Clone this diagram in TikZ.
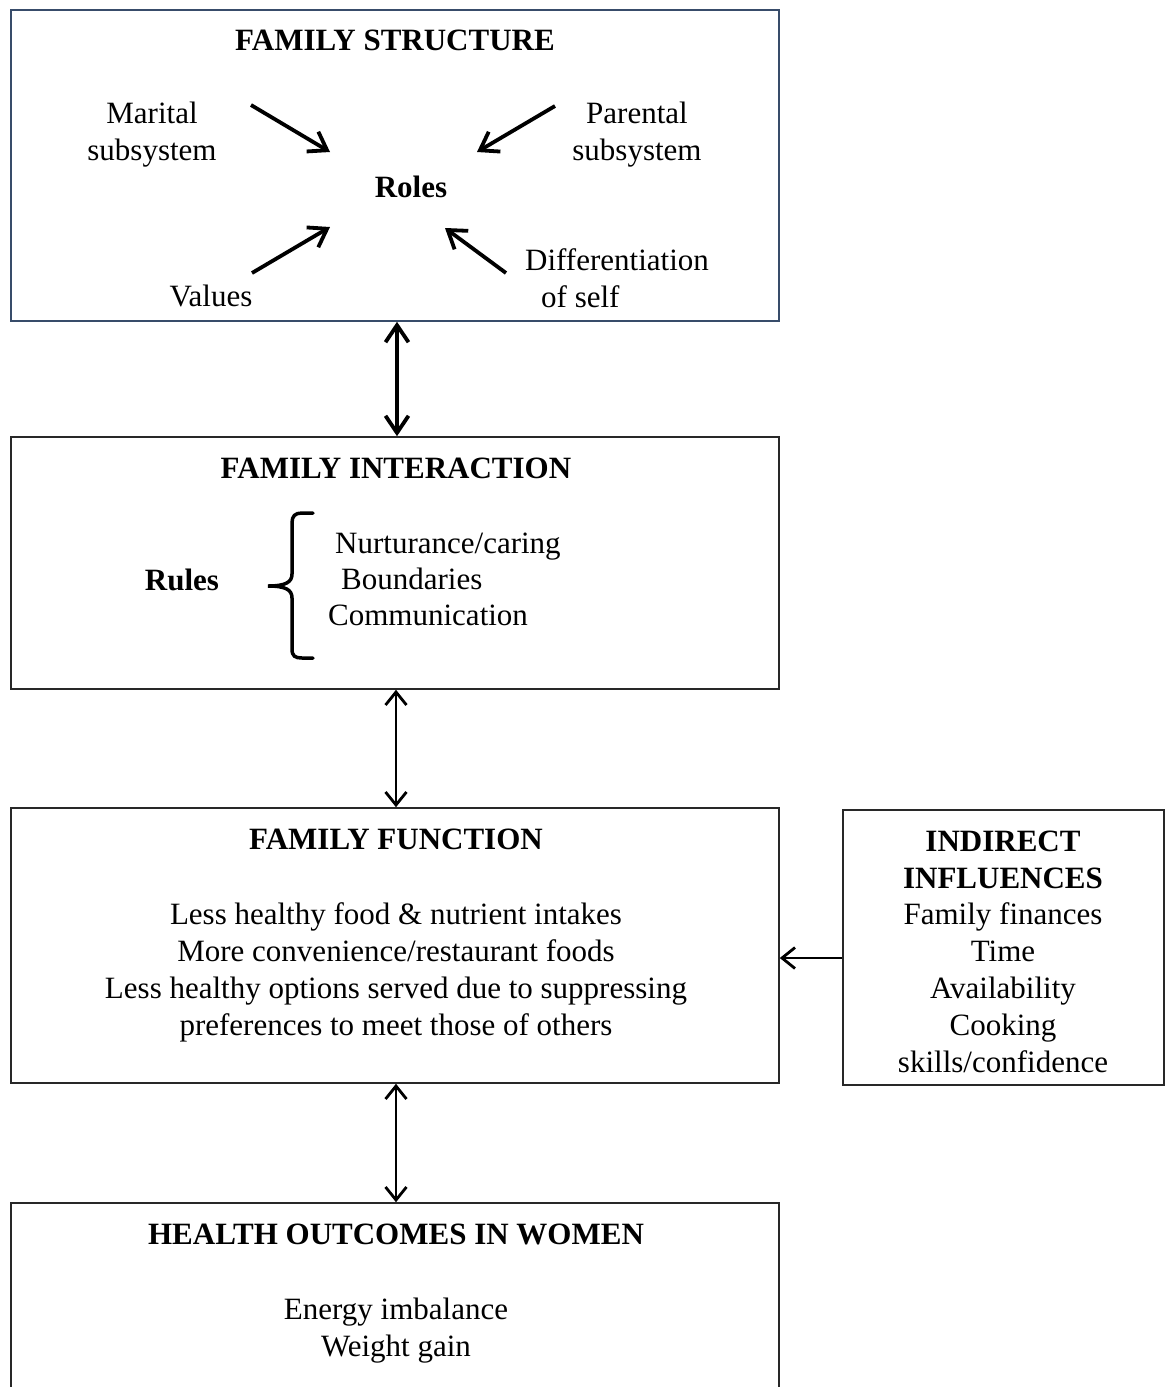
\documentclass[tikz,border=0pt]{standalone}
\usepackage{fontspec}
\setmainfont{Liberation Serif}
\usetikzlibrary{arrows.meta}
\definecolor{boxblue}{RGB}{56,76,106}
\definecolor{boxgray}{RGB}{40,40,40}
\begin{document}
\begin{tikzpicture}[x=1pt,y=-1pt,
  box/.style={draw=boxgray, line width=1.6pt, inner sep=0pt, fill=none},
  txt/.style={inner sep=0pt, anchor=base, align=center, font=\fontsize{31}{37}\selectfont},
  btxt/.style={txt, font=\fontsize{31}{37}\selectfont\bfseries},
  arrowthick/.style={line width=3.8pt, -{Straight Barb[length=17pt,width=23pt,line width=3.8pt]}},
  dblthick/.style={line width=3.8pt, {Straight Barb[length=17pt,width=23pt,line width=3.8pt]}-{Straight Barb[length=17pt,width=23pt,line width=3.8pt]}},
  dblthin/.style={line width=2.8pt, {Straight Barb[length=13pt,width=21pt,line width=2.8pt]}-{Straight Barb[length=13pt,width=21pt,line width=2.8pt]}},
  arrowthin/.style={line width=2.8pt, -{Straight Barb[length=13pt,width=21pt,line width=2.8pt]}},
]
\clip (0,0) rectangle (1172,1387);
\fill[white] (0,0) rectangle (1172,1387);

% boxes
\node[box, draw=boxblue, minimum width=768pt, minimum height=311pt] (fs) at (395,165.5) {};
\node[box, minimum width=768pt, minimum height=252pt] (fi) at (395,563) {};
\node[box, minimum width=768pt, minimum height=275pt] (ff) at (395,945.5) {};
\node[box, minimum width=321pt, minimum height=275pt] (ii) at (1003.5,947.5) {};
\node[box, minimum width=768pt, minimum height=217pt] (ho) at (395,1311.5) {};

% family structure
\node[btxt] (fst) at (395,50) {FAMILY STRUCTURE};
\node[txt] (mar) at (152,160) {Marital\\subsystem};
\node[txt] (par) at (637,160) {Parental\\subsystem};
\node[btxt] (roles) at (411,197) {Roles};
\node[txt] (val) at (211,306) {Values};
\node[txt, align=left, anchor=base west] (dif) at (525,307) {Differentiation\\\hspace*{16pt}of self};

\coordinate (m1) at (251,105); \coordinate (m2) at (330,152);
\coordinate (p1) at (555,106); \coordinate (p2) at (477,152);
\coordinate (v1) at (252,273); \coordinate (v2) at (330,227);
\coordinate (d1) at (506,273); \coordinate (d2) at (445,228);
\draw[arrowthick] (m1) -- (m2);
\draw[arrowthick] (p1) -- (p2);
\draw[arrowthick] (v1) -- (v2);
\draw[arrowthick] (d1) -- (d2);

% family interaction
\node[btxt] (fit) at (396,478) {FAMILY INTERACTION};
\node[btxt] (rules) at (182,590) {Rules};
\node[txt, anchor=base west] (nur) at (335,553) {Nurturance/caring};
\node[txt, anchor=base west] (bou) at (341,589) {Boundaries};
\node[txt, anchor=base west] (com) at (328,625) {Communication};
\draw[line width=3.5pt, line cap=round]
  (313,513) -- (302,513) .. controls (295,513) and (292,516) .. (292,523)
  -- (292,574) .. controls (292,582) and (286,586) .. (268,586)
  .. controls (286,586) and (292,590) .. (292,598)
  -- (292,649) .. controls (292,656) and (295,658) .. (302,658) -- (313,658);

% family function
\node[btxt] (fft) at (396,849) {FAMILY FUNCTION};
\node[txt] (ffl) at (396,1035) {Less healthy food \& nutrient intakes\\More convenience/restaurant foods\\Less healthy options served due to suppressing\\preferences to meet those of others};

% indirect influences
\node[btxt] (iit) at (1003,888) {INDIRECT\\INFLUENCES};
\node[txt] (iil) at (1003,1072) {Family finances\\Time\\Availability\\Cooking\\skills/confidence};

% health outcomes
\node[btxt] (hot) at (396,1244) {HEALTH OUTCOMES IN WOMEN};
\node[txt] (hol) at (396,1356) {Energy imbalance\\Weight gain};

% connectors
\draw[dblthick] ([xshift=2pt]fs.south) -- ([xshift=2pt]fi.north);
\draw[dblthin] ([xshift=1pt]fi.south) -- ([xshift=1pt]ff.north);
\draw[dblthin] ([xshift=1pt]ff.south) -- ([xshift=1pt]ho.north);
\draw[arrowthin] ([yshift=-10.5pt]ii.west) -- ([yshift=-10.5pt]ii.west -| ff.east);
\end{tikzpicture}
\end{document}
